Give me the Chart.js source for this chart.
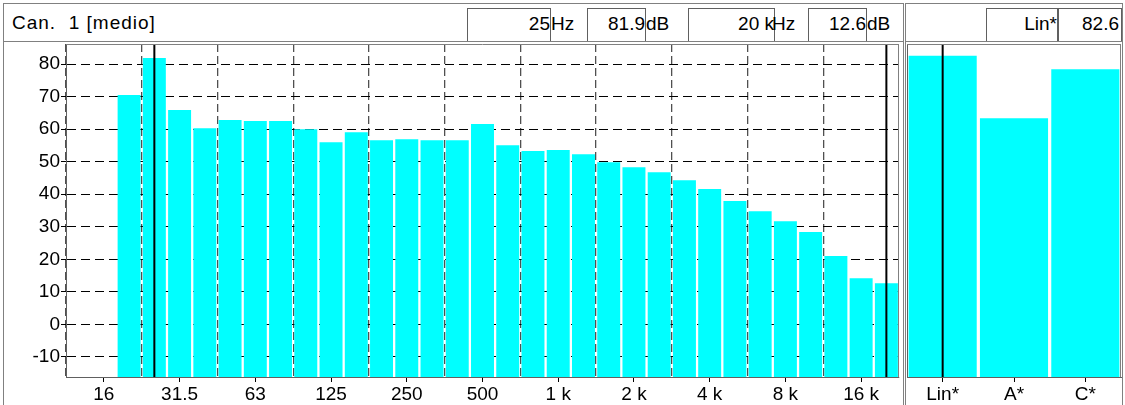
<!DOCTYPE html>
<html>
<head>
<meta charset="utf-8">
<script src="https://cdn.jsdelivr.net/npm/chart.js@4.4.1/dist/chart.umd.min.js"></script>
<style>
  body { margin: 0; width: 1125px; height: 405px; overflow: hidden; background: #fff; position: relative;
         font-family: "Liberation Sans", Arial, sans-serif; }
  .frame { position: absolute; border: 1px solid #808080; box-sizing: border-box; }
  .cell { position: absolute; top: 8px; height: 33px; border: 1px solid #606060; border-bottom: none; box-sizing: border-box;
          font-size: 19px; line-height: 30px; text-align: right; white-space: pre; background: #fff; }
  .unit { position: absolute; top: 8px; font-size: 19px; line-height: 32px; white-space: pre; }
  .title { position: absolute; left: 12px; top: 7px; font-size: 19px; line-height: 32px; white-space: pre; letter-spacing: 1px; }
  canvas { position: absolute; }
</style>
</head>
<body>
<div class="frame" style="left:3px;top:3px;width:901px;height:39px;"></div>
<div class="frame" style="left:905px;top:3px;width:218px;height:39px;"></div>
<div class="frame" style="left:3px;top:40px;width:901px;height:380px;border-top:none;"></div>
<div class="frame" style="left:905px;top:40px;width:218px;height:380px;border-top:none;"></div>

<div class="title" id="titolo"></div>
<div class="cell" style="left:467px;width:84px;" id="f1"></div><div class="unit" style="left:551px;">Hz</div>
<div class="cell" style="left:587px;width:59px;" id="l1"></div><div class="unit" style="left:646px;">dB</div>
<div class="cell" style="left:688px;width:87px;" id="f2"></div><div class="unit" style="left:772px;">Hz</div>
<div class="cell" style="left:808px;width:59px;" id="l2"></div><div class="unit" style="left:867px;">dB</div>
<div class="cell" style="left:986px;width:72px;" id="pes"></div>
<div class="cell" style="left:1058px;width:64px;padding-right:2px;" id="totale"></div>

<canvas id="graficoBande" width="899" height="363" style="left:3px;top:42px;width:899px;height:363px;"></canvas>
<canvas id="graficoTotali" width="218" height="363" style="left:904px;top:42px;width:218px;height:363px;"></canvas>

<script>
// bande in terzi d'ottava
const bande = ['12.5', '16', '20', '25', '31.5', '40', '50', '63', '80', '100', '125', '160', '200', '250', '315',
  '400', '500', '630', '800', '1 k', '1.25 k', '1.6 k', '2 k', '2.5 k', '3.15 k', '4 k', '5 k', '6.3 k', '8 k',
  '10 k', '12.5 k', '16 k', '20 k'];
const livelli = [null, null, 70.5, 81.9, 65.9, 60.3, 62.8, 62.5, 62.5, 60.0, 56.0, 59.1, 56.6, 56.9, 56.6,
  56.6, 61.6, 55.1, 53.3, 53.6, 52.3, 49.8, 48.3, 46.8, 44.3, 41.6, 37.9, 34.8, 31.7,
  28.4, 21.0, 14.2, 12.6];
const etichetteX = ['16', '31.5', '63', '125', '250', '500', '1 k', '2 k', '4 k', '8 k', '16 k'];
const tickY = [-10, 0, 10, 20, 30, 40, 50, 60, 70, 80];
const yMin = -16.2;
const yMax = 86.2;

const pesature = ['Lin*', 'A*', 'C*'];
const totali = [82.6, 63.4, 78.4];

const cursori = ['25', '20 k'];
const cursoreTotale = 'Lin*';

const ciano = '#00ffff';
const font = { family: '"Liberation Sans", Arial, sans-serif', size: 19 };

// intestazione
const i1 = bande.indexOf(cursori[0]);
const i2 = bande.indexOf(cursori[1]);
document.getElementById('titolo').textContent = 'Can.  1 [medio]';
document.getElementById('f1').textContent = cursori[0];
document.getElementById('l1').textContent = livelli[i1].toFixed(1);
document.getElementById('f2').textContent = cursori[1];
document.getElementById('l2').textContent = livelli[i2].toFixed(1);
document.getElementById('pes').textContent = cursoreTotale;
document.getElementById('totale').textContent = totali[pesature.indexOf(cursoreTotale)].toFixed(1);

const cornice = {
  id: 'cornice',
  afterDraw(chart) {
    const { ctx, chartArea: a } = chart;
    ctx.save();
    ctx.strokeStyle = '#808080';
    ctx.lineWidth = 1;
    ctx.beginPath();
    ctx.moveTo(a.left, a.top + 0.5);
    ctx.lineTo(a.right, a.top + 0.5);
    ctx.moveTo(a.right - 0.5, a.top);
    ctx.lineTo(a.right - 0.5, a.bottom);
    ctx.stroke();
    ctx.restore();
  }
};

const senzaMargini = (s) => {
  s.paddingTop = 0;
  s.paddingBottom = 0;
  s.paddingLeft = 0;
  s.paddingRight = 0;
};

const lineaCursore = (x) => ({
  type: 'line',
  data: [{ x: x, y: yMin }, { x: x, y: yMax }],
  borderColor: '#000',
  borderWidth: 2,
  pointRadius: 0,
  xAxisID: 'x'
});

Chart.defaults.animation = false;
Chart.defaults.color = '#000';
Chart.defaults.font = font;

new Chart(document.getElementById('graficoBande').getContext('2d'), {
  type: 'bar',
  data: {
    labels: bande,
    datasets: [
      ...cursori.map(lineaCursore),
      {
        data: livelli,
        base: yMin,
        backgroundColor: ciano,
        borderWidth: 0,
        categoryPercentage: 1,
        barPercentage: 0.91,
        xAxisID: 'x'
      }
    ]
  },
  options: {
    responsive: false,
    layout: { padding: { top: 2, right: 3, left: 0, bottom: 0 } },
    plugins: { legend: { display: false }, tooltip: { enabled: false } },
    scales: {
      x: {
        type: 'category',
        position: 'bottom',
        offset: true,
        grid: {
          offset: true,
          drawTicks: false,
          color: (c) => (c.index % 3 === 0 ? '#505050' : 'rgba(0,0,0,0)'),
          lineWidth: 1.3
        },
        border: { display: true, color: '#606060', dash: [8, 4] },
        ticks: { display: false },
        afterFit: (s) => { s.height = 0; senzaMargini(s); }
      },
      xl: {
        type: 'category',
        position: 'bottom',
        offset: true,
        grid: {
          offset: false,
          drawOnChartArea: false,
          tickLength: 5,
          color: (c) => (etichetteX.includes(bande[c.index]) ? '#000' : 'rgba(0,0,0,0)')
        },
        border: { display: false },
        ticks: {
          autoSkip: false,
          maxRotation: 0,
          padding: 1,
          callback: (v, i) => (etichetteX.includes(bande[i]) ? bande[i] : '')
        },
        afterFit: (s) => { s.height = 28; senzaMargini(s); }
      },
      y: {
        min: yMin,
        max: yMax,
        grid: { color: '#000', tickColor: '#000', tickLength: 5 },
        border: { color: '#606060', dash: [9, 5] },
        ticks: { padding: 1 },
        afterBuildTicks: (s) => { s.ticks = tickY.map(v => ({ value: v })); },
        afterFit: (s) => { s.width = 63; senzaMargini(s); }
      }
    }
  },
  plugins: [cornice]
});

new Chart(document.getElementById('graficoTotali').getContext('2d'), {
  type: 'bar',
  data: {
    labels: pesature,
    datasets: [
      {
        type: 'line',
        data: [{ x: cursoreTotale, y: yMin }, { x: cursoreTotale, y: yMax }],
        borderColor: '#000',
        borderWidth: 2,
        pointRadius: 0
      },
      {
        data: totali,
        base: yMin,
        backgroundColor: ciano,
        borderWidth: 0,
        categoryPercentage: 1,
        barPercentage: 0.955
      }
    ]
  },
  options: {
    responsive: false,
    layout: { padding: { top: 2, right: 1, left: 0, bottom: 0 } },
    plugins: { legend: { display: false }, tooltip: { enabled: false } },
    scales: {
      x: {
        type: 'category',
        offset: true,
        grid: { offset: false, drawOnChartArea: false, tickLength: 5, color: '#000' },
        border: { display: true, color: '#606060' },
        ticks: { padding: 1, maxRotation: 0 },
        afterFit: (s) => { s.height = 28; senzaMargini(s); }
      },
      y: {
        min: yMin,
        max: yMax,
        grid: { display: false },
        border: { display: true, color: '#606060' },
        ticks: { display: false },
        afterFit: (s) => { s.width = 3; senzaMargini(s); }
      }
    }
  },
  plugins: [cornice]
});
</script>
</body>
</html>
